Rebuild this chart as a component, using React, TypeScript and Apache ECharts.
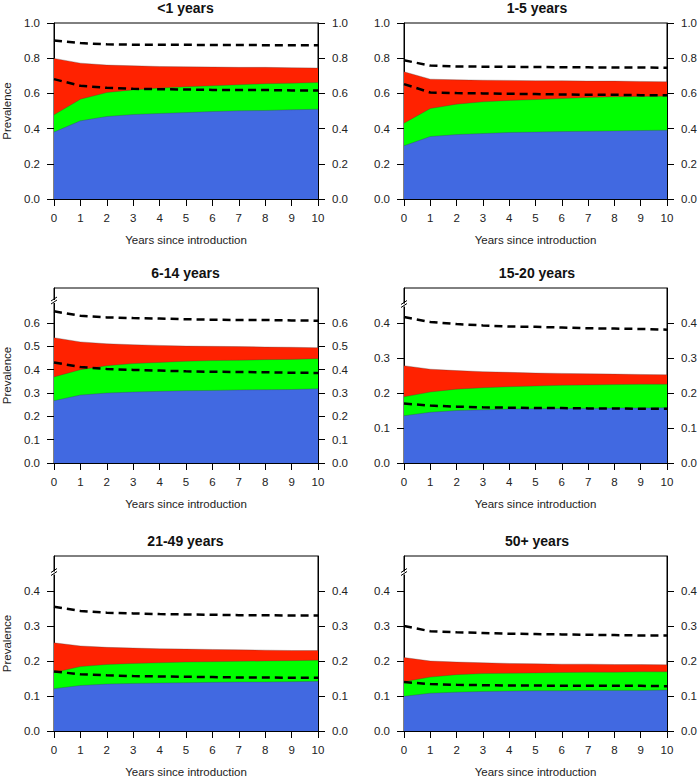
import React, { useEffect, useRef } from "react";
import * as echarts from "echarts";

const years = [0, 1, 2, 3, 4, 5, 6, 7, 8, 9, 10];
const panelTitles = ["<1 years", "1-5 years", "6-14 years", "15-20 years", "21-49 years", "50+ years"];

// Cumulative tops of the stacked areas (blue, blue+green, blue+green+red) and the two dashed lines
const p1Blue = [0.380, 0.444, 0.469, 0.480, 0.486, 0.491, 0.497, 0.501, 0.503, 0.507, 0.510];
const p1Green = [0.478, 0.567, 0.605, 0.620, 0.630, 0.638, 0.643, 0.649, 0.655, 0.658, 0.662];
const p1Red = [0.799, 0.772, 0.761, 0.757, 0.753, 0.751, 0.750, 0.748, 0.748, 0.746, 0.744];
const p1Upper = [0.900, 0.886, 0.879, 0.877, 0.876, 0.876, 0.875, 0.875, 0.874, 0.874, 0.873];
const p1Lower = [0.681, 0.643, 0.632, 0.626, 0.624, 0.622, 0.620, 0.619, 0.619, 0.617, 0.617];

const p2Blue = [0.302, 0.355, 0.366, 0.372, 0.378, 0.380, 0.383, 0.385, 0.387, 0.389, 0.391];
const p2Green = [0.431, 0.514, 0.539, 0.552, 0.560, 0.565, 0.571, 0.577, 0.581, 0.583, 0.584];
const p2Red = [0.723, 0.681, 0.677, 0.675, 0.674, 0.672, 0.672, 0.670, 0.670, 0.668, 0.666];
const p2Upper = [0.788, 0.758, 0.753, 0.752, 0.751, 0.750, 0.749, 0.748, 0.747, 0.747, 0.746];
const p2Lower = [0.653, 0.605, 0.602, 0.600, 0.598, 0.596, 0.594, 0.592, 0.592, 0.590, 0.589];

const p3Blue = [0.267, 0.291, 0.300, 0.304, 0.307, 0.310, 0.311, 0.313, 0.314, 0.315, 0.318];
const p3Green = [0.369, 0.400, 0.417, 0.426, 0.431, 0.436, 0.439, 0.440, 0.443, 0.444, 0.447];
const p3Red = [0.537, 0.519, 0.511, 0.507, 0.504, 0.501, 0.500, 0.499, 0.497, 0.496, 0.494];
const p3Upper = [0.650, 0.631, 0.624, 0.621, 0.619, 0.616, 0.614, 0.613, 0.613, 0.611, 0.610];
const p3Lower = [0.431, 0.411, 0.403, 0.399, 0.396, 0.393, 0.391, 0.390, 0.389, 0.387, 0.386];

const p4Blue = [0.135, 0.145, 0.150, 0.152, 0.154, 0.155, 0.156, 0.156, 0.157, 0.157, 0.158];
const p4Green = [0.189, 0.203, 0.211, 0.215, 0.218, 0.220, 0.222, 0.223, 0.224, 0.225, 0.225];
const p4Red = [0.278, 0.268, 0.264, 0.261, 0.259, 0.257, 0.256, 0.255, 0.254, 0.253, 0.252];
const p4Upper = [0.417, 0.403, 0.397, 0.393, 0.390, 0.389, 0.387, 0.385, 0.384, 0.383, 0.381];
const p4Lower = [0.170, 0.164, 0.161, 0.159, 0.158, 0.157, 0.157, 0.156, 0.156, 0.155, 0.155];

const p5Blue = [0.121, 0.130, 0.134, 0.136, 0.137, 0.138, 0.139, 0.140, 0.140, 0.141, 0.142];
const p5Green = [0.167, 0.184, 0.190, 0.193, 0.195, 0.197, 0.198, 0.199, 0.200, 0.201, 0.202];
const p5Red = [0.252, 0.243, 0.239, 0.237, 0.235, 0.234, 0.233, 0.232, 0.231, 0.230, 0.230];
const p5Upper = [0.355, 0.343, 0.338, 0.336, 0.334, 0.333, 0.332, 0.331, 0.331, 0.330, 0.330];
const p5Lower = [0.170, 0.162, 0.159, 0.157, 0.156, 0.155, 0.154, 0.153, 0.153, 0.152, 0.152];

const p6Blue = [0.099, 0.108, 0.111, 0.113, 0.114, 0.115, 0.115, 0.116, 0.116, 0.116, 0.117];
const p6Green = [0.141, 0.154, 0.161, 0.164, 0.165, 0.166, 0.167, 0.168, 0.168, 0.169, 0.169];
const p6Red = [0.210, 0.200, 0.197, 0.195, 0.193, 0.192, 0.191, 0.191, 0.190, 0.190, 0.189];
const p6Upper = [0.300, 0.285, 0.282, 0.280, 0.278, 0.277, 0.276, 0.275, 0.274, 0.273, 0.273];
const p6Lower = [0.140, 0.134, 0.132, 0.131, 0.130, 0.130, 0.129, 0.129, 0.129, 0.129, 0.128];

const ticksFull = [0, 0.2, 0.4, 0.6, 0.8, 1.0];
const ticksMid = [0, 0.1, 0.2, 0.3, 0.4, 0.5, 0.6];
const ticksLow = [0, 0.1, 0.2, 0.3, 0.4];
const yMaxes = [1.0, 1.0, 0.75, 0.5, 0.5, 0.5];
const breakAt = [null, null, 0.69, 0.45, 0.45, 0.45];

const panels = [
  { blue: p1Blue, green: p1Green, red: p1Red, upper: p1Upper, lower: p1Lower, ticks: ticksFull },
  { blue: p2Blue, green: p2Green, red: p2Red, upper: p2Upper, lower: p2Lower, ticks: ticksFull },
  { blue: p3Blue, green: p3Green, red: p3Red, upper: p3Upper, lower: p3Lower, ticks: ticksMid },
  { blue: p4Blue, green: p4Green, red: p4Red, upper: p4Upper, lower: p4Lower, ticks: ticksLow },
  { blue: p5Blue, green: p5Green, red: p5Red, upper: p5Upper, lower: p5Lower, ticks: ticksLow },
  { blue: p6Blue, green: p6Green, red: p6Red, upper: p6Upper, lower: p6Lower, ticks: ticksLow },
];

const COLORS = { blue: "#4169E1", green: "#00FF00", red: "#FF2200" };
const FONT = "'Liberation Sans', Arial, Helvetica, sans-serif";

// layout: [left, top, width, height]
const grids = [
  [53, 23, 265, 176],
  [404, 23, 266, 176],
  [53, 288, 265, 175],
  [404, 288, 266, 175],
  [53, 556, 265, 176],
  [404, 556, 266, 176],
];

export default function App() {
  const ref = useRef<HTMLDivElement>(null);
  useEffect(() => {
    if (!ref.current) return;
    const chart = echarts.init(ref.current, null, { renderer: "svg" });
    const zip = (ys: number[]) => years.map((x, i) => [x, ys[i]]);
    const title: any[] = [];
    const grid: any[] = [];
    const xAxis: any[] = [];
    const yAxis: any[] = [];
    const series: any[] = [];
    panels.forEach((p, i) => {
      const [l, t, w, h] = grids[i];
      title.push({
        text: panelTitles[i],
        left: l + w / 2,
        top: t - 22,
        textAlign: "center",
        padding: 0,
        textStyle: { fontFamily: FONT, fontSize: 14, fontWeight: "bold", color: "#111" },
      });
      grid.push({ left: l, top: t, width: w, height: h, show: true, borderColor: "#000", borderWidth: 1, backgroundColor: "transparent" });
      const labelStyle = { fontFamily: FONT, fontSize: 11.5, color: "#222" };
      xAxis.push({
        type: "value",
        gridIndex: i,
        min: 0,
        max: 10,
        interval: 1,
        name: "Years since introduction",
        nameLocation: "middle",
        nameGap: 35,
        nameTextStyle: { fontFamily: FONT, fontSize: 11.5, color: "#222" },
        axisLine: { show: true, onZero: false, lineStyle: { color: "#000", width: 1 } },
        axisTick: { show: true, inside: false, length: 7, lineStyle: { color: "#000" } },
        axisLabel: { ...labelStyle, margin: 13 },
        splitLine: { show: false },
      });
      const isLeftCol = i % 2 === 0;
      const yBase = {
        type: "value",
        gridIndex: i,
        min: 0,
        max: yMaxes[i],
        axisLine: { show: true, onZero: false, lineStyle: { color: "#000", width: 1 } },
        axisTick: { show: true, inside: false, length: 7, customValues: p.ticks, lineStyle: { color: "#000" } },
        axisLabel: { ...labelStyle, margin: 14, customValues: p.ticks, formatter: (v: number) => v.toFixed(1) },
        splitLine: { show: false },
      };
      yAxis.push({
        ...yBase,
        position: "left",
        name: isLeftCol ? "Prevalence" : "",
        nameLocation: "middle",
        nameGap: 41,
        nameRotate: 90,
        nameTextStyle: { fontFamily: FONT, fontSize: 11.5, color: "#222" },
      });
      yAxis.push({ ...yBase, position: "right" });
      const yl = i * 2;
      const area = (name: string, data: number[], color: string, z: number) => ({
        type: "line",
        name,
        xAxisIndex: i,
        yAxisIndex: yl,
        data: zip(data),
        showSymbol: false,
        symbol: "none",
        lineStyle: { width: 0.6, color: "rgba(60,60,60,0.5)" },
        areaStyle: { color, opacity: 1 },
        z,
      });
      series.push(area("red", p.red, COLORS.red, 1));
      series.push(area("green", p.green, COLORS.green, 2));
      series.push(area("blue", p.blue, COLORS.blue, 3));
      const dash = (name: string, data: number[]) => ({
        type: "line",
        name,
        xAxisIndex: i,
        yAxisIndex: yl,
        data: zip(data),
        showSymbol: false,
        symbol: "none",
        lineStyle: { width: 2.5, color: "#000", type: [8, 5] },
        z: 5,
      });
      series.push(dash("upper", p.upper));
      series.push(dash("lower", p.lower));
    });
    chart.setOption({
      animation: false,
      backgroundColor: "#fff",
      title,
      grid,
      xAxis,
      yAxis,
      series,
    });
    const graphic: any[] = [];
    breakAt.forEach((b, i) => {
      if (b == null) return;
      const pt = chart.convertToPixel({ xAxisIndex: i, yAxisIndex: i * 2 } as any, [0, b]) as number[];
      const cx = pt[0];
      const cy = pt[1];
      graphic.push({ type: "rect", shape: { x: cx - 2, y: cy - 2, width: 4, height: 3 }, style: { fill: "#fff" }, z: 100 });
      graphic.push({ type: "line", shape: { x1: cx - 3, y1: cy - 1, x2: cx + 3, y2: cy - 5 }, style: { stroke: "#000", lineWidth: 1 }, z: 101 });
      graphic.push({ type: "line", shape: { x1: cx - 3, y1: cy + 2, x2: cx + 3, y2: cy - 2 }, style: { stroke: "#000", lineWidth: 1 }, z: 101 });
    });
    chart.setOption({ graphic });
    return () => chart.dispose();
  }, []);
  return <div ref={ref} style={{ position: "absolute", left: 0, top: 0, width: 700, height: 779 }} />;
}
